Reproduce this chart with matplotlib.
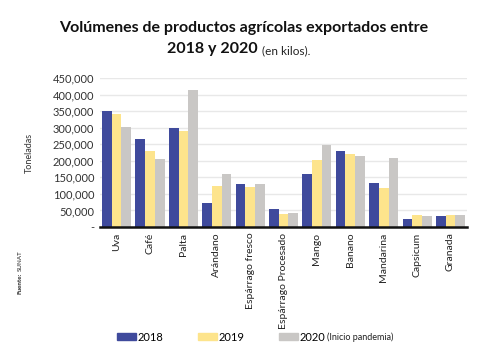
import numpy as np
import matplotlib
matplotlib.use("Agg")
import matplotlib.pyplot as plt
from matplotlib.patches import Patch

# datos (kilos)
productos = ["Uva", "Café", "Palta", "Arándano", "Espárrago fresco",
             "Espárrago Procesado", "Mango", "Banano", "Mandarina",
             "Capsicum", "Granada"]
v2018 = [351000, 265000, 300000, 71000, 131000, 55000, 161000, 230000, 133000, 24000, 34000]
v2019 = [341000, 229000, 291000, 125000, 121000, 40000, 202000, 222000, 117000, 36000, 37000]
v2020 = [301000, 206000, 413000, 161000, 129000, 41000, 247000, 214000, 208000, 34000, 35000]
yticks = [0, 50000, 100000, 150000, 200000, 250000, 300000, 350000, 400000, 450000]
ytick_labels = ["-"] + [f"{v:,}" for v in yticks[1:]]

c2018 = "#3f4a9c"
c2019 = "#fde48c"
c2020 = "#c9c7c5"

plt.rcParams['font.family'] = ['Lato', 'DejaVu Sans']

fig = plt.figure(figsize=(4.97, 3.58), dpi=100)
ax = fig.add_axes([0.201, 0.366, 0.739, 0.416])

x = np.arange(len(productos))
w = 0.29
ax.bar(x - w, v2018, w, color=c2018, zorder=3)
ax.bar(x, v2019, w, color=c2019, zorder=3)
ax.bar(x + w, v2020, w, color=c2020, zorder=3)

ax.set_xlim(-0.5, len(productos) - 0.5)
ax.set_ylim(0, 450000)
ax.set_yticks(yticks)
ax.set_yticklabels(ytick_labels, fontsize=8, color="#333333")
ax.set_xticks(x)
ax.set_xticklabels(productos, rotation=90, fontsize=7.5, color="#222222")
ax.tick_params(axis="both", length=0, pad=4)
ax.yaxis.grid(True, color="#e8e8e8", lw=1, zorder=0)
for s in ["top", "right", "left"]:
    ax.spines[s].set_visible(False)
ax.spines["bottom"].set_linewidth(1.8)
ax.spines["bottom"].set_color("#111111")
ax.spines["bottom"].set_zorder(4)

ax.set_ylabel("Toneladas", fontsize=6.5, color="#333333", labelpad=14)

# titulo
fig.text(0.49, 0.922, "Volúmenes de productos agrícolas exportados entre",
         ha="center", va="center", fontsize=11.5, fontweight="bold", color="#111111")
fig.text(0.519, 0.862, "2018 y 2020", ha="right", va="center",
         fontsize=11.5, fontweight="bold", color="#111111")
fig.text(0.527, 0.858, "(en kilos).", ha="left", va="center",
         fontsize=8.5, color="#222222")

# fuente
f1 = fig.text(0.04, 0.18, "Fuente:", rotation=90, ha="center", va="bottom",
              fontsize=4.5, fontweight="bold", color="#222222")

# leyenda
handles = [Patch(color=c2018), Patch(color=c2019), Patch(color=c2020)]
leg = fig.legend(handles, ["2018", "2019", "2020"], ncol=3, loc="center left",
                 bbox_to_anchor=(0.235, 0.058), frameon=False, fontsize=8,
                 borderpad=0, borderaxespad=0,
                 handlelength=1.75, handleheight=0.6, handletextpad=0.1,
                 columnspacing=3.1)
fig.canvas.draw()
r = fig.canvas.get_renderer()
bb = leg.get_texts()[2].get_window_extent(r)
fig.text(bb.x1 / fig.bbox.width + 0.005, (bb.y0 + bb.y1) / 2 / fig.bbox.height,
         "(Inicio pandemia)", ha="left", va="center", fontsize=6.5, color="#222222")
fb = f1.get_window_extent(r)
fig.text(0.04, fb.y1 / fig.bbox.height + 0.004, "SUNAT", rotation=90,
         ha="center", va="bottom", fontsize=4.5, color="#222222")

fig.savefig("out.png", dpi=100)
